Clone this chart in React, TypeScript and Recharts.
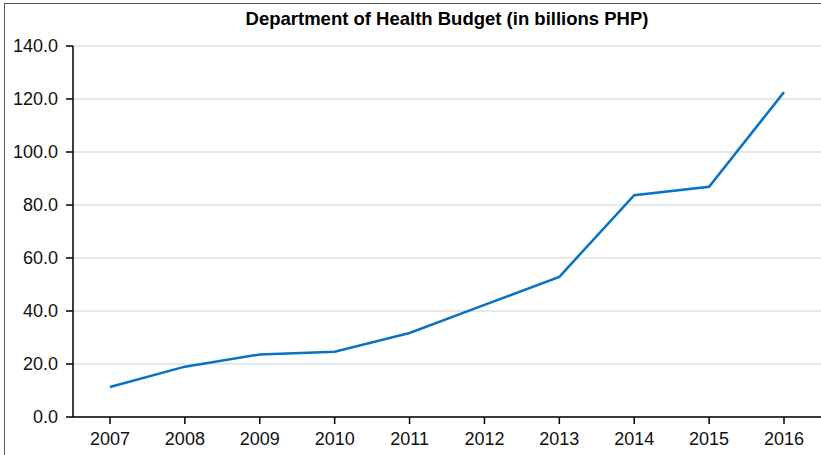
import { LineChart, Line, XAxis, YAxis, CartesianGrid } from 'recharts';

const years = ['2007', '2008', '2009', '2010', '2011', '2012', '2013', '2014', '2015', '2016'];
const budget = [11.3, 19.0, 23.6, 24.6, 31.7, 42.3, 52.9, 83.7, 86.9, 122.6];
const yTicks = [0, 20, 40, 60, 80, 100, 120, 140];

const data = years.map((year, i) => ({ year, budget: budget[i] }));

const FONT = '"Liberation Sans", Arial, Helvetica, sans-serif';

export default function App() {
  document.body.style.margin = '0';
  return (
    <div
      style={{
        position: 'relative',
        width: 821,
        height: 455,
        overflow: 'hidden',
        background: '#fff',
        fontFamily: FONT,
      }}
    >
      <div
        style={{
          position: 'absolute',
          left: 4,
          top: 3,
          width: 900,
          height: 600,
          border: '1.5px solid #555',
          boxSizing: 'border-box',
        }}
      />
      <div
        style={{
          position: 'absolute',
          left: 73,
          width: 748,
          top: 8,
          textAlign: 'center',
          fontSize: 18.5,
          lineHeight: '22px',
          fontWeight: 700,
          color: '#000',
        }}
      >
        Department of Health Budget (in billions PHP)
      </div>
      <div style={{ position: 'absolute', left: 0, top: 0 }}>
        <LineChart
          width={821}
          height={455}
          data={data}
          margin={{ top: 46, right: 0, bottom: 8, left: 0 }}
        >
          <CartesianGrid vertical={false} stroke="#d0d0d0" strokeWidth={1} />
          <XAxis
            dataKey="year"
            height={30}
            padding={{ left: 37, right: 37 }}
            tickSize={7}
            tickMargin={8}
            stroke="#000"
            tick={{ fill: '#111', fontSize: 18, fontFamily: FONT }}
            axisLine={{ stroke: '#000', strokeWidth: 1.5 }}
            tickLine={{ stroke: '#000', strokeWidth: 1.5 }}
          />
          <YAxis
            width={73}
            domain={[0, 140]}
            ticks={yTicks}
            interval={0}
            tickSize={7}
            tickMargin={8}
            tickFormatter={(v) => Number(v).toFixed(1)}
            stroke="#000"
            tick={{ fill: '#111', fontSize: 18, fontFamily: FONT }}
            axisLine={{ stroke: '#000', strokeWidth: 1.5 }}
            tickLine={{ stroke: '#000', strokeWidth: 1.5 }}
          />
          <Line
            type="linear"
            dataKey="budget"
            stroke="#0a72c2"
            strokeWidth={2.5}
            dot={false}
            activeDot={false}
            isAnimationActive={false}
          />
        </LineChart>
      </div>
    </div>
  );
}
